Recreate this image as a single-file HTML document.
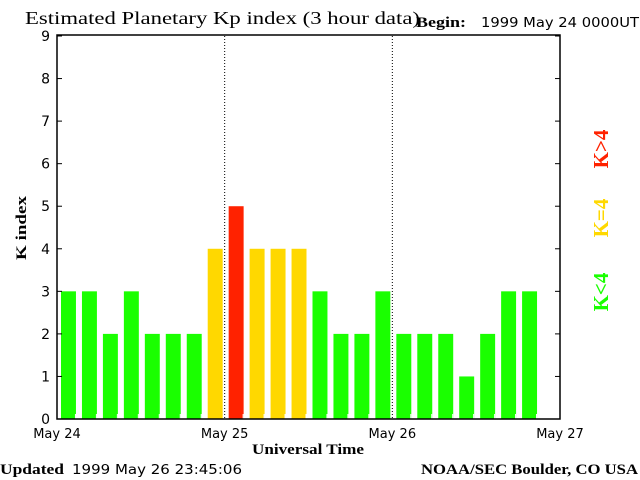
<!DOCTYPE html>
<html><head><meta charset="utf-8"><style>
body{margin:0;background:#fff;width:640px;height:480px;overflow:hidden}
svg{display:block}
.s{font-family:"DejaVu Sans","Liberation Sans",sans-serif}
.sf{font-family:"Liberation Serif","DejaVu Serif",serif;font-weight:bold}
</style></head><body>
<svg id="c" width="640" height="480">
<text class="sf" x="25" y="24" font-size="18" textLength="395" lengthAdjust="spacingAndGlyphs" style="font-weight:normal">Estimated Planetary Kp index (3 hour data)</text>
<text class="sf" x="416" y="27" font-size="15" textLength="50" lengthAdjust="spacingAndGlyphs">Begin:</text>
<text class="s" x="481" y="27" font-size="13" textLength="158" lengthAdjust="spacingAndGlyphs">1999 May 24 0000UT</text>
<text class="sf" x="0" y="474" font-size="15" textLength="64" lengthAdjust="spacingAndGlyphs">Updated</text>
<text class="s" x="72" y="474" font-size="13" textLength="170" lengthAdjust="spacingAndGlyphs">1999 May 26 23:45:06</text>
<text class="sf" x="421" y="474" font-size="15" textLength="217" lengthAdjust="spacingAndGlyphs">NOAA/SEC Boulder, CO USA</text>
<text class="sf" x="252" y="454" font-size="15" textLength="112" lengthAdjust="spacingAndGlyphs">Universal Time</text>
<text class="sf" font-size="15" text-anchor="middle" textLength="64" lengthAdjust="spacingAndGlyphs" transform="translate(26,228) rotate(-90)">K index</text>
<text class="sf" font-size="21" fill="#ff2200" text-anchor="middle" transform="translate(608,149) rotate(-90)">K&gt;4</text>
<text class="sf" font-size="21" fill="#ffd800" text-anchor="middle" transform="translate(608,218) rotate(-90)">K=4</text>
<text class="sf" font-size="21" fill="#1aff00" text-anchor="middle" transform="translate(608,292) rotate(-90)">K&lt;4</text>
<g id="g"></g>
</svg>
<script>
const values=[3,3,2,3,2,2,2,4, 5,4,4,4,3,2,2,3, 2,2,2,1,2,3,3];
const yTicks=[0,1,2,3,4,5,6,7,8,9];
const xLabels=["May 24","May 25","May 26","May 27"];
const L=57,R=560,T=36,B=419,N=24;
const slot=(R-L)/N;
const xs=i=>L+i*slot;
const ys=v=>B-(v/9)*(B-T);
const ns="http://www.w3.org/2000/svg";
const g=document.getElementById('g');
function mk(t,a){const e=document.createElementNS(ns,t);for(const k in a)e.setAttribute(k,a[k]);g.appendChild(e);return e;}
values.forEach((v,i)=>{
  const col=v>4?'#ff2200':(v==4?'#ffd800':'#1aff00');
  const b=mk('rect',{x:xs(i)+4,y:ys(v),width:slot-6,height:B-ys(v),fill:col});
  
  
});
for(let i=1;i<N;i++){
  if(i%8==0)continue;
  mk('line',{x1:xs(i)-2.5,x2:xs(i)-2.5,y1:B-5,y2:B,stroke:'#fff'});
}
for(let d=1;d<3;d++){
  const l=mk('line',{x1:xs(d*8),x2:xs(d*8),y1:T,y2:B,stroke:'#000','stroke-dasharray':'1,2'});
  
  
}
const fr=mk('rect',{x:L,y:T-1,width:R-L,height:B-T+1,fill:'none',stroke:'#000','stroke-width':1.5});


yTicks.forEach(v=>{
  const y=ys(v);
  mk('line',{x1:L,x2:L+5,y1:y,y2:y,stroke:'#000'});
  mk('line',{x1:R-5,x2:R,y1:y,y2:y,stroke:'#000'});
  const t=mk('text',{x:L-7,y:y+5,'font-size':14,'text-anchor':'end',class:'s'});
  t.textContent=v;
  
  
});
xLabels.forEach((s,d)=>{
  const t=mk('text',{x:xs(d*8),y:438,'font-size':13,'text-anchor':'middle',class:'s'});
  t.textContent=s;
  
  
});
</script>
</body></html>
